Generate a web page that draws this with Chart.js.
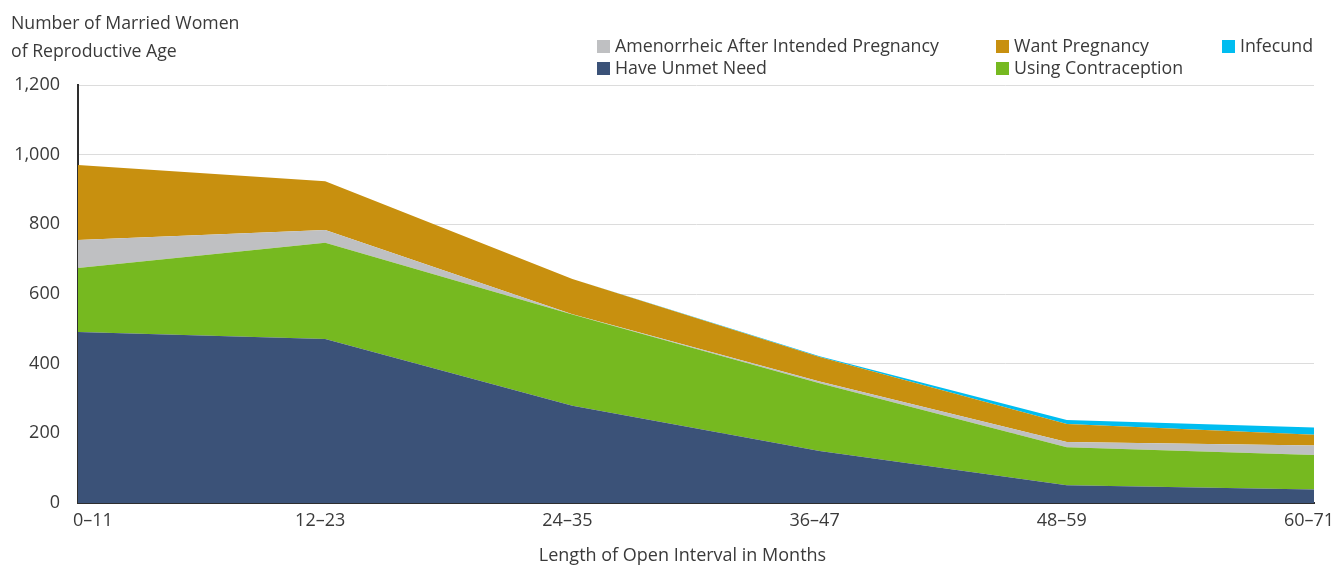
<!DOCTYPE html>
<html>
<head>
<meta charset="utf-8">
<script src="https://cdn.jsdelivr.net/npm/chart.js@4"></script>
<style>
  html, body { margin: 0; padding: 0; background: #fff; }
  #wrap { position: relative; width: 1335px; height: 565px; font-family: "Open Sans", Lato, sans-serif; color: #3a3a3a; }
  canvas { position: absolute; left: 0; top: 0; }
  .ytitle { position: absolute; left: 11px; top: 8px; font-size: 17.7px; line-height: 28px; }
  .xtitle { position: absolute; left: 0; width: 1365px; top: 542px; text-align: center; font-size: 18px; line-height: 24px; }
  .leg { position: absolute; font-size: 17.8px; line-height: 22px; white-space: nowrap; }
  .leg span.sw { display: inline-block; width: 13px; height: 13px; margin-right: 5px; vertical-align: -1px; }
</style>
</head>
<body>
<div id="wrap">
  <canvas id="c" width="1335" height="565"></canvas>
  <div class="ytitle" id="ytitle"></div>
  <div class="xtitle" id="xtitle"></div>
</div>
<script>
const categories = ["0–11", "12–23", "24–35", "36–47", "48–59", "60–71"];
const haveUnmetNeed = [491, 471, 279, 149, 51, 39];
const usingContraception = [184, 276, 262, 195, 109, 99];
const amenorrheic = [80, 37, 1, 5, 15, 27];
const wantPregnancy = [215, 140, 101, 70, 52, 31];
const infecund = [0, 0, 0, 2, 11, 21];
const yTicks = [0, 200, 400, 600, 800, 1000, 1200];
const xTitle = "Length of Open Interval in Months";
const yTitle = ["Number of Married Women", "of Reproductive Age"];

const FONT = '"Open Sans", Lato, sans-serif';

const series = [
  { label: "Have Unmet Need", data: haveUnmetNeed, color: "#3b5278" },
  { label: "Using Contraception", data: usingContraception, color: "#76b920" },
  { label: "Amenorrheic After Intended Pregnancy", data: amenorrheic, color: "#bfc0c2" },
  { label: "Want Pregnancy", data: wantPregnancy, color: "#c8900f" },
  { label: "Infecund", data: infecund, color: "#00bdf0" }
];

// legend (HTML text)
const legendLayout = [
  { label: "Amenorrheic After Intended Pregnancy", x: 597, y: 34 },
  { label: "Want Pregnancy", x: 996, y: 34 },
  { label: "Infecund", x: 1222, y: 34 },
  { label: "Have Unmet Need", x: 597, y: 56 },
  { label: "Using Contraception", x: 996, y: 56 }
];
const wrap = document.getElementById('wrap');
legendLayout.forEach(l => {
  const s = series.find(d => d.label === l.label);
  const el = document.createElement('div');
  el.className = 'leg';
  el.style.left = l.x + 'px';
  el.style.top = l.y + 'px';
  const sw = document.createElement('span');
  sw.className = 'sw';
  sw.style.background = s.color;
  el.appendChild(sw);
  el.appendChild(document.createTextNode(s.label));
  wrap.appendChild(el);
});
document.getElementById('xtitle').textContent = xTitle;
const yt = document.getElementById('ytitle');
yTitle.forEach((t, i) => {
  if (i) yt.appendChild(document.createElement('br'));
  yt.appendChild(document.createTextNode(t));
});

const xLabelPlugin = {
  id: 'xLabels',
  afterDraw(chart) {
    const ctx = chart.ctx;
    const xs = chart.scales.x;
    ctx.save();
    ctx.font = '18px ' + FONT;
    ctx.fillStyle = '#3a3a3a';
    ctx.textBaseline = 'middle';
    categories.forEach((c, i) => {
      const px = xs.getPixelForValue(i);
      if (i === 0) { ctx.textAlign = 'left'; ctx.fillText(c, px - 5, 521); }
      else { ctx.textAlign = 'center'; ctx.fillText(c, px - 5, 521); }
    });
    ctx.restore();
  }
};

new Chart(document.getElementById('c'), {
  type: 'line',
  data: {
    labels: categories,
    datasets: series.map((s, i) => ({
      label: s.label,
      data: s.data,
      backgroundColor: s.color,
      borderColor: s.color,
      borderWidth: 0,
      pointRadius: 0,
      tension: 0,
      fill: i === 0 ? 'origin' : '-1'
    }))
  },
  options: {
    responsive: false,
    animation: false,
    layout: { padding: { top: 85, right: 21, left: 0, bottom: 0 } },
    plugins: { legend: { display: false }, tooltip: { enabled: false } },
    scales: {
      x: {
        offset: false,
        grid: { display: false },
        border: { display: true, color: '#2e2e2e', width: 2 },
        ticks: { display: false },
        afterFit(scale) { scale.height = 62; }
      },
      y: {
        stacked: true,
        min: 0, max: 1200,
        afterBuildTicks(scale) { scale.ticks = yTicks.map(v => ({ value: v })); },
        grid: { color: '#dcdcdc', lineWidth: 1, drawTicks: false },
        border: { display: true, color: '#2e2e2e', width: 2 },
        ticks: {
          padding: 18,
          color: '#3a3a3a',
          font: { family: FONT, size: 18 },
          callback: v => v.toLocaleString('en-US')
        },
        afterFit(scale) { scale.width = 78; }
      }
    }
  },
  plugins: [xLabelPlugin]
});
</script>
</body>
</html>
